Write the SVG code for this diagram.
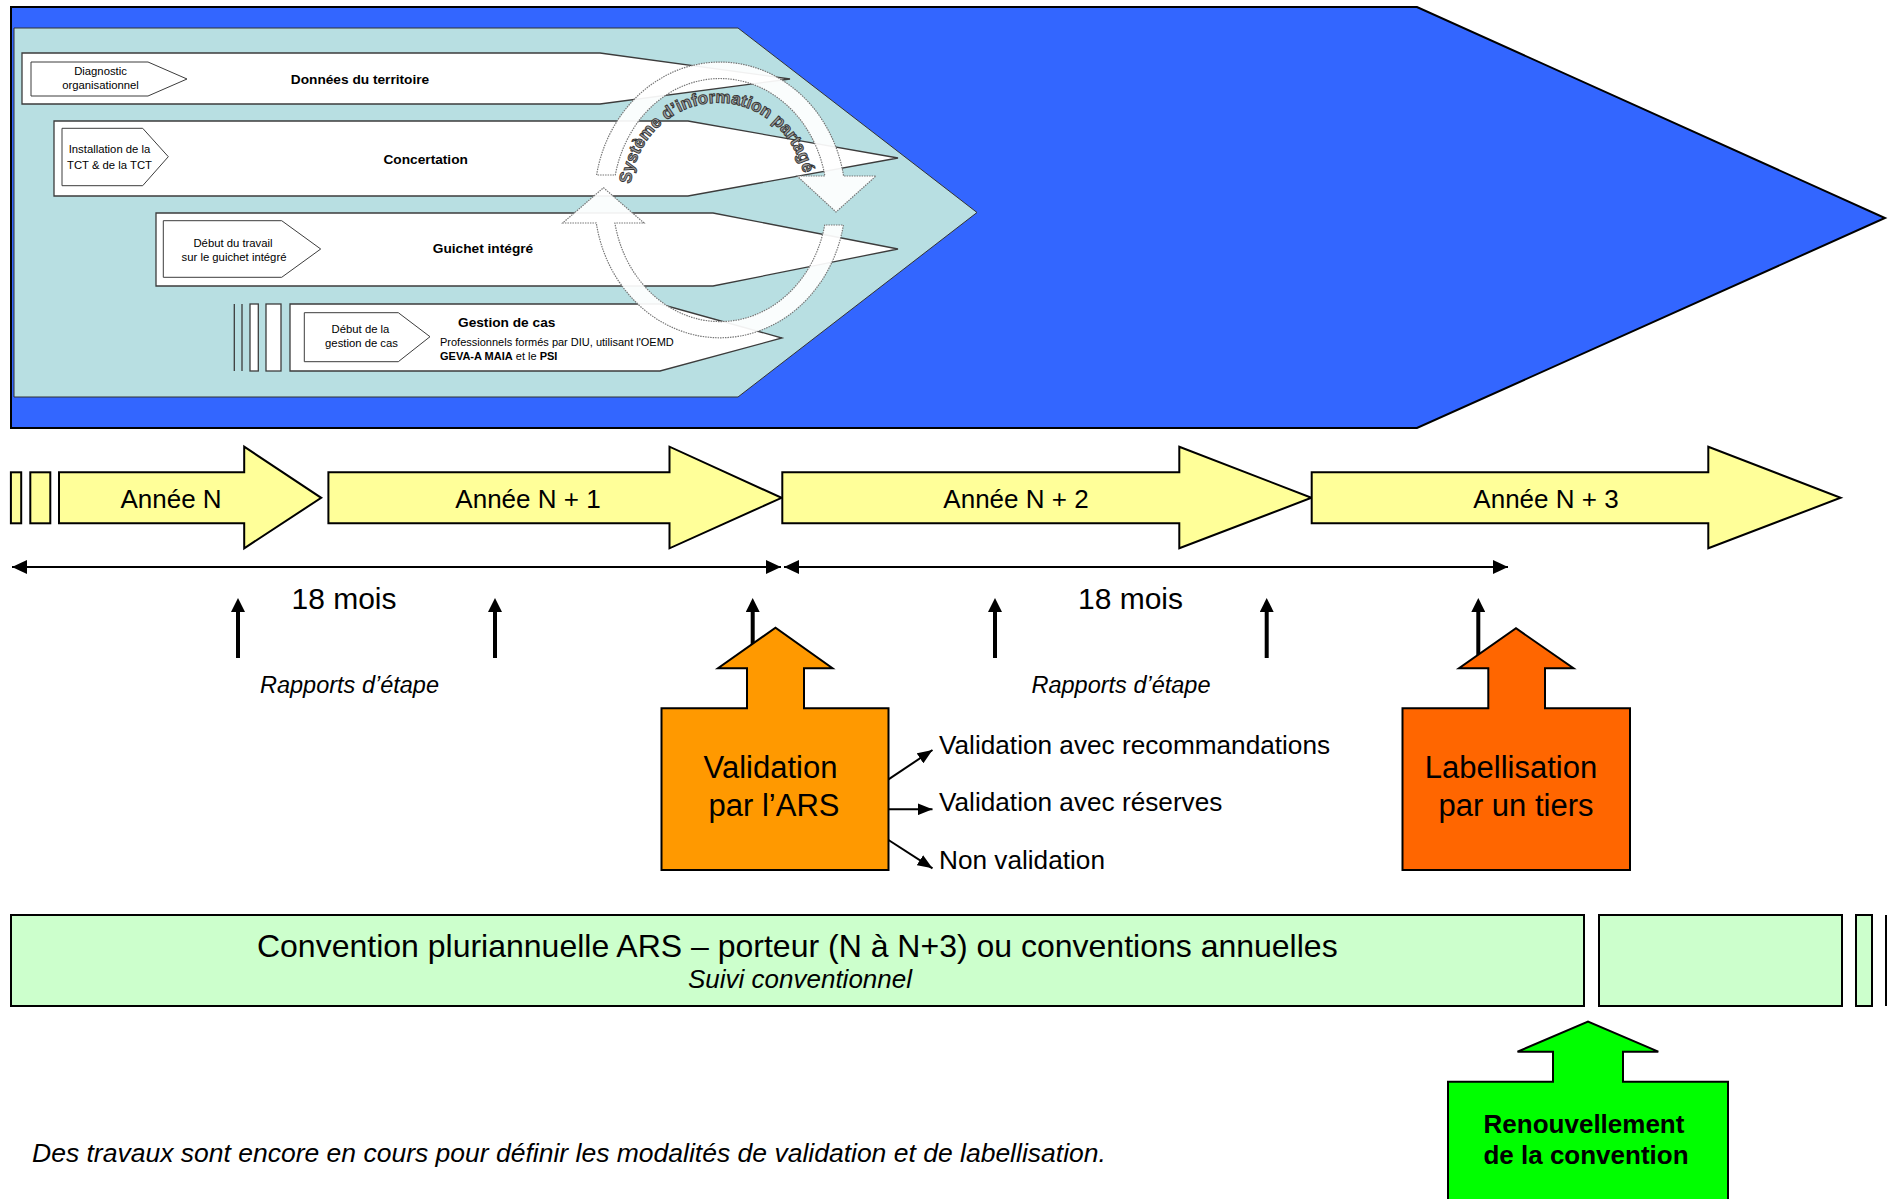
<svg xmlns="http://www.w3.org/2000/svg" width="1890" height="1199" viewBox="0 0 1890 1199">
<style>
text{font-family:"Liberation Sans",Arial,Helvetica,sans-serif;fill:#000}
.sm{font-size:11.3px;text-anchor:middle}
.bl{font-size:13.7px;font-weight:bold;text-anchor:middle}
.row{fill:#fff;stroke:#3c3c3c;stroke-width:1.3}
.lab{fill:#fff;stroke:#3c3c3c;stroke-width:1}
.yr{fill:#FFFF99;stroke:#000;stroke-width:2}
.yt{font-size:26px;text-anchor:middle}
.mo{font-size:30px;text-anchor:middle}
.ra{font-size:23.5px;font-style:italic;text-anchor:middle}
.ln{stroke:#000;stroke-width:2;fill:none}
.up{stroke:#000;stroke-width:4;fill:none}
.band{fill:#fff;fill-opacity:.93;stroke:#777;stroke-width:1.2;stroke-dasharray:1.5 1}
.gb{fill:#CCFFCC;stroke:#000;stroke-width:2}
.big{font-size:31px;text-anchor:middle}
.out{font-size:26.2px}
</style>
<defs>
<marker id="ah" viewBox="0 0 15 14" refX="15" refY="7" markerWidth="15" markerHeight="14" markerUnits="userSpaceOnUse" orient="auto-start-reverse"><path d="M0,0L15,7L0,14z" fill="#000"/></marker>
<marker id="au" viewBox="0 0 14 14" refX="6" refY="7" markerWidth="14" markerHeight="14" markerUnits="userSpaceOnUse" orient="auto"><path d="M0,0L14,7L0,14z" fill="#000"/></marker>
<marker id="ao" viewBox="0 0 15 12" refX="15" refY="6" markerWidth="15" markerHeight="12" markerUnits="userSpaceOnUse" orient="auto"><path d="M0,0L15,6L0,12z" fill="#000"/></marker>
<path id="arcText" d="M 630.7 184 A 88 93 0 0 1 805.3 184"/>
</defs>

<g id="processus">
<polygon points="11,7 1417,7 1885,218 1417,428 11,428" fill="#3366FF" stroke="#000" stroke-width="2"/>
<polygon points="14,28 738,28 977,212.5 738,397 14,397" fill="#B8DFE2" stroke="#333" stroke-width="1"/>
</g>

<g id="donnees-territoire">
<polygon class="row" points="22,53 600,53 790,79 600,104 22,104"/>
<polygon class="lab" points="31,62 148,62 187,79 148,96 31,96"/>
<text class="sm" x="100.5" y="75.3">Diagnostic</text>
<text class="sm" x="100.5" y="89.3">organisationnel</text>
<text class="bl" x="360" y="84.3">Données du territoire</text>
</g>

<g id="concertation">
<polygon class="row" points="54,121 688,121 898,158 688,196 54,196"/>
<polygon class="lab" points="62,128.3 142.7,128.3 168.3,156.7 142.7,185.7 62,185.7"/>
<text class="sm" x="109.5" y="153.3">Installation de la</text>
<text class="sm" x="109.5" y="169">TCT &amp; de la TCT</text>
<text class="bl" x="425.7" y="164">Concertation</text>
</g>

<g id="guichet-integre">
<polygon class="row" points="156,213 713,213 898,249 713,286 156,286"/>
<polygon class="lab" points="163.3,220.7 281.7,220.7 320.7,249 281.7,277.3 163.3,277.3"/>
<text class="sm" x="233" y="246.7">Début du travail</text>
<text class="sm" x="234" y="260.7">sur le guichet intégré</text>
<text class="bl" x="483" y="253.3">Guichet intégré</text>
</g>

<g id="gestion-de-cas">
<line x1="234.3" y1="304" x2="234.3" y2="371" stroke="#3c3c3c" stroke-width="1.3"/>
<line x1="242" y1="304" x2="242" y2="371" stroke="#3c3c3c" stroke-width="1.3"/>
<rect class="row" x="250" y="304" width="8.3" height="67"/>
<rect class="row" x="266" y="304" width="15" height="67"/>
<polygon class="row" points="290,304 660,304 782,338 660,371 290,371"/>
<polygon class="lab" points="304.3,312.7 398.3,312.7 430,336.7 398.3,361.7 304.3,361.7"/>
<text class="sm" x="360.5" y="332.7">Début de la</text>
<text class="sm" x="361.5" y="346.7">gestion de cas</text>
<text class="bl" x="506.7" y="326.7">Gestion de cas</text>
<text x="440" y="346" font-size="11px">Professionnels formés par DIU, utilisant l'OEMD</text>
<text x="440" y="360" font-size="11px"><tspan font-weight="bold">GEVA-A MAIA</tspan> et le <tspan font-weight="bold">PSI</tspan></text>
</g>

<g id="systeme-information">
<path class="band" d="M 596.6 175 A 125.5 138 0 0 1 843.6 176 L 876 176 L 836 212 L 797 176 L 824.9 176 A 107 121.5 0 0 0 615.3 175 Z"/>
<path class="band" d="M 843.4 225 A 125.5 138 0 0 1 596.3 223 L 562.7 223 L 603.5 187.7 L 644 223 L 614.9 223 A 107 121.5 0 0 0 824.7 225 Z"/>
<text font-size="17px" font-weight="bold" style="fill:#a0a0a0;stroke:#333;stroke-width:0.9"><textPath href="#arcText">Système d’information partagé</textPath></text>
</g>

<g id="annees">
<rect class="yr" x="10.9" y="472.3" width="10.3" height="51"/>
<rect class="yr" x="30.3" y="472.3" width="20" height="51"/>
<g id="annee-n">
<polygon class="yr" points="59,472.3 244.2,472.3 244.2,446.7 321.2,497.8 244.2,548.3 244.2,523.3 59,523.3"/>
<text class="yt" x="171" y="508">Année N</text>
</g>
<g id="annee-n1">
<polygon class="yr" points="328.4,472.3 669.5,472.3 669.5,446.7 781.6,497.8 669.5,548.3 669.5,523.3 328.4,523.3"/>
<text class="yt" x="528" y="508">Année N + 1</text>
</g>
<g id="annee-n2">
<polygon class="yr" points="782.3,472.3 1179.3,472.3 1179.3,446.7 1311.5,497.8 1179.3,548.3 1179.3,523.3 782.3,523.3"/>
<text class="yt" x="1016" y="508">Année N + 2</text>
</g>
<g id="annee-n3">
<polygon class="yr" points="1311.7,472.3 1708.3,472.3 1708.3,446.7 1840.6,497.8 1708.3,548.3 1708.3,523.3 1311.7,523.3"/>
<text class="yt" x="1546" y="508">Année N + 3</text>
</g>
</g>

<g id="connectors">
<line class="ln" x1="12" y1="567" x2="781" y2="567" marker-start="url(#ah)" marker-end="url(#ah)"/>
<line class="ln" x1="784" y1="567" x2="1508" y2="567" marker-start="url(#ah)" marker-end="url(#ah)"/>
<line class="up" x1="238" y1="658" x2="238" y2="606" marker-end="url(#au)"/>
<line class="up" x1="495" y1="658" x2="495" y2="606" marker-end="url(#au)"/>
<line class="up" x1="752.7" y1="658" x2="752.7" y2="606" marker-end="url(#au)"/>
<line class="up" x1="995" y1="658" x2="995" y2="606" marker-end="url(#au)"/>
<line class="up" x1="1266.7" y1="658" x2="1266.7" y2="606" marker-end="url(#au)"/>
<line class="up" x1="1478.3" y1="658" x2="1478.3" y2="606" marker-end="url(#au)"/>
<line class="ln" x1="888.5" y1="779.3" x2="932.5" y2="750" marker-end="url(#ao)"/>
<line class="ln" x1="888.5" y1="809.3" x2="932.5" y2="809.3" marker-end="url(#ao)"/>
<line class="ln" x1="888.5" y1="840" x2="932.5" y2="868.3" marker-end="url(#ao)"/>
</g>

<g id="durees">
<text class="mo" x="344" y="608.5">18 mois</text>
<text class="mo" x="1130.5" y="608.5">18 mois</text>
<text class="ra" x="349.5" y="693">Rapports d’étape</text>
<text class="ra" x="1121" y="693">Rapports d’étape</text>
</g>

<g id="validation-ars">
<polygon points="661.5,870 661.5,708.3 747,708.3 747,668.3 718,668.3 775.5,627.7 832.5,668.3 804,668.3 804,708.3 888.5,708.3 888.5,870" fill="#FF9900" stroke="#000" stroke-width="2"/>
<text class="big" x="770.5" y="778">Validation</text>
<text class="big" x="774" y="816">par l’ARS</text>
</g>

<g id="issues-validation">
<text class="out" x="939" y="753.5">Validation avec recommandations</text>
<text class="out" x="939" y="811">Validation avec réserves</text>
<text class="out" x="939" y="869">Non validation</text>
</g>

<g id="labellisation">
<polygon points="1402.5,870 1402.5,708.3 1488.3,708.3 1488.3,668.3 1459,668.3 1516,628.3 1573.5,668.3 1545,668.3 1545,708.3 1630,708.3 1630,870" fill="#FF6600" stroke="#000" stroke-width="2"/>
<text class="big" x="1511" y="778">Labellisation</text>
<text class="big" x="1516" y="816">par un tiers</text>
</g>

<g id="convention">
<rect class="gb" x="11" y="915" width="1573" height="91"/>
<rect class="gb" x="1599" y="915" width="243" height="91"/>
<rect class="gb" x="1856" y="915" width="16" height="91"/>
<line x1="1886" y1="915" x2="1886" y2="1006" stroke="#000" stroke-width="2"/>
<text x="797.3" y="956.7" font-size="32px" text-anchor="middle">Convention pluriannuelle ARS – porteur (N à N+3) ou conventions annuelles</text>
<text x="800" y="988" font-size="26px" font-style="italic" text-anchor="middle">Suivi conventionnel</text>
</g>

<g id="renouvellement">
<polygon points="1448,1210 1448,1081.7 1553,1081.7 1553,1051.7 1517.5,1051.7 1588,1021.7 1658.3,1051.7 1623,1051.7 1623,1081.7 1728,1081.7 1728,1210" fill="#00FF00" stroke="#000" stroke-width="2"/>
<text x="1584" y="1133" font-size="26px" font-weight="bold" text-anchor="middle">Renouvellement</text>
<text x="1586" y="1164" font-size="26px" font-weight="bold" text-anchor="middle">de la convention</text>
</g>

<g id="note">
<text x="32" y="1162" font-size="26.5px" font-style="italic">Des travaux sont encore en cours pour définir les modalités de validation et de labellisation.</text>
</g>
</svg>
